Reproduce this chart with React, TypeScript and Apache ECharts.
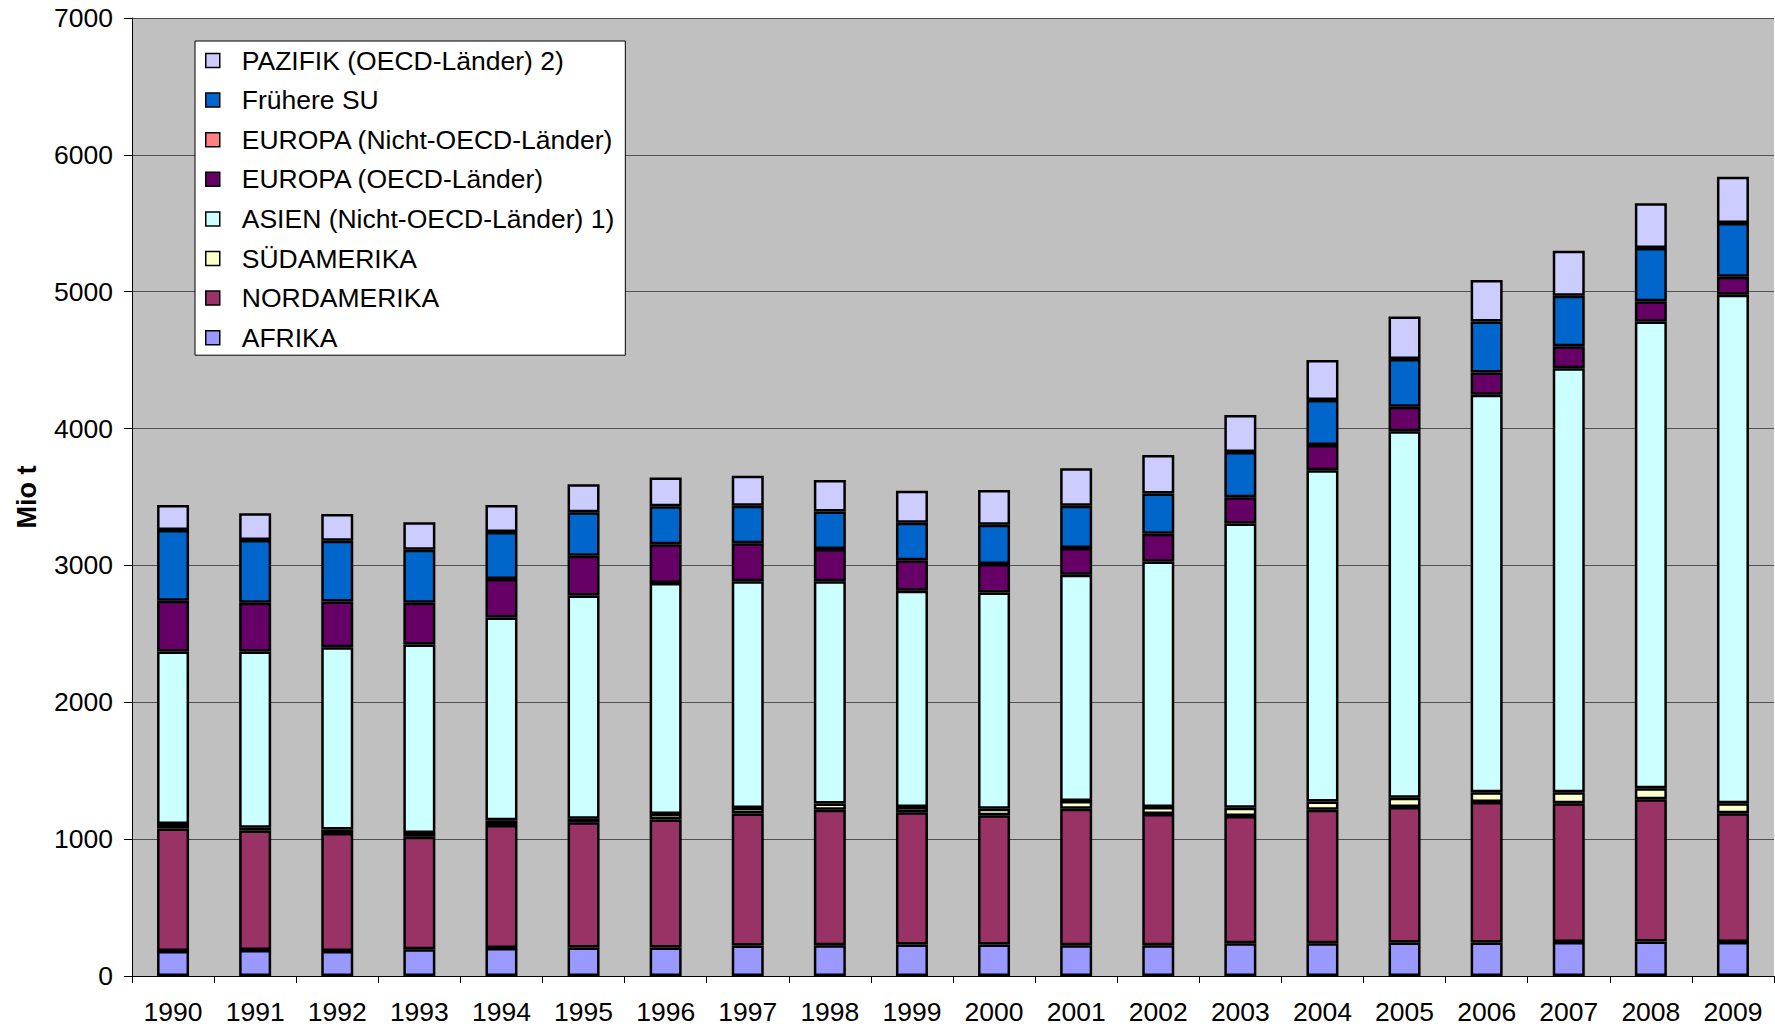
import React, { useEffect, useRef } from "react";
import * as echarts from "echarts";

const years = ["1990","1991","1992","1993","1994","1995","1996","1997","1998","1999","2000","2001","2002","2003","2004","2005","2006","2007","2008","2009"];
const yTicks = [0, 1000, 2000, 3000, 4000, 5000, 6000, 7000];

const afrika = [183,190,183,196,204,209,209,222,225,230,230,225,225,240,240,244,244,248,252,248];
const nordamerika = [895,873,861,822,900,914,935,966,989,966,945,997,958,930,974,990,1027,1015,1039,942];
const suedamerika = [32,21,26,26,34,26,39,39,47,39,47,57,52,60,61,69,72,80,80,73];
const asienNonOecd = [1261,1287,1332,1379,1481,1632,1689,1658,1624,1580,1580,1653,1794,2077,2420,2677,2905,3098,3411,3715];
const europaOecd = [371,357,334,305,282,289,282,277,235,222,208,196,203,192,185,180,161,160,148,132];
const europaNonOecd = [0,0,0,0,0,0,0,0,0,0,0,0,0,0,0,0,0,0,0,0];
const fruehereSU = [516,457,444,387,344,319,279,274,274,274,288,308,293,329,328,349,373,369,389,393];
const pazifikOecd = [183,196,196,201,196,204,209,219,230,235,253,274,282,272,293,309,304,329,328,337];

const seriesDefs = [
  { name: "AFRIKA", data: afrika, color: "#9999FF" },
  { name: "NORDAMERIKA", data: nordamerika, color: "#993366" },
  { name: "SÜDAMERIKA", data: suedamerika, color: "#FFFFCC" },
  { name: "ASIEN (Nicht-OECD-Länder) 1)", data: asienNonOecd, color: "#CCFFFF" },
  { name: "EUROPA (OECD-Länder)", data: europaOecd, color: "#660066" },
  { name: "EUROPA (Nicht-OECD-Länder)", data: europaNonOecd, color: "#FF8080" },
  { name: "Frühere SU", data: fruehereSU, color: "#0066CC" },
  { name: "PAZIFIK (OECD-Länder) 2)", data: pazifikOecd, color: "#CCCCFF" },
];

const FONT = "'Liberation Sans', Arial, sans-serif";

export default function App() {
  const ref = useRef<HTMLDivElement>(null);
  useEffect(() => {
    if (!ref.current) return;
    const chart = echarts.init(ref.current, null, { renderer: "svg" });
    chart.setOption({
      animation: false,
      backgroundColor: "#FFFFFF",
      textStyle: { fontFamily: FONT },
      grid: {
        left: 132,
        top: 18,
        right: 1,
        bottom: 54,
        show: true,
        backgroundColor: "#C0C0C0",
        borderWidth: 0,
      },
      legend: {
        orient: "vertical",
        left: 195,
        top: 41,
        padding: [6, 11, 4, 10],
        backgroundColor: "#FFFFFF",
        borderColor: "#000000",
        borderWidth: 1,
        borderRadius: 0,
        itemWidth: 14,
        itemHeight: 14,
        itemGap: 12.6,
        icon: "rect",
        itemStyle: { borderColor: "#000000", borderWidth: 1.5 },
        textStyle: {
          fontSize: 26.5,
          lineHeight: 27,
          color: "#000000",
          fontFamily: FONT,
          padding: [0, 0, 0, 17],
        },
        data: seriesDefs.map((s) => s.name).reverse(),
      },
      xAxis: {
        type: "category",
        data: years,
        axisLine: { lineStyle: { color: "#000000", width: 1 } },
        axisTick: { show: true, length: 7, lineStyle: { color: "#000000" } },
        axisLabel: { fontSize: 26.5, color: "#000000", margin: 22, fontFamily: FONT },
      },
      yAxis: {
        type: "value",
        min: yTicks[0],
        max: yTicks[yTicks.length - 1],
        interval: 1000,
        name: "Mio t",
        nameLocation: "middle",
        nameGap: 92,
        nameTextStyle: { fontSize: 27, fontWeight: "bold", color: "#000000", fontFamily: FONT },
        axisLine: { show: true, lineStyle: { color: "#000000", width: 1 } },
        axisTick: { show: true, length: 8, lineStyle: { color: "#000000" } },
        axisLabel: {
          fontSize: 26.5,
          color: "#000000",
          margin: 19,
          fontFamily: FONT,
          formatter: (v: number) => String(v),
        },
        splitLine: { show: true, lineStyle: { color: "#505050", width: 1 } },
      },
      series: seriesDefs.map((s) => ({
        name: s.name,
        type: "bar",
        stack: "total",
        barWidth: 32,
        data: s.data.map((v) => (v === 0 ? "-" : v)),
        itemStyle: { color: s.color, borderColor: "#000000", borderWidth: 2.5 },
        emphasis: { disabled: true },
      })),
    });
    return () => chart.dispose();
  }, []);
  return (
    <div
      ref={ref}
      style={{ position: "fixed", left: 0, top: 0, width: 1775, height: 1030 }}
    />
  );
}
